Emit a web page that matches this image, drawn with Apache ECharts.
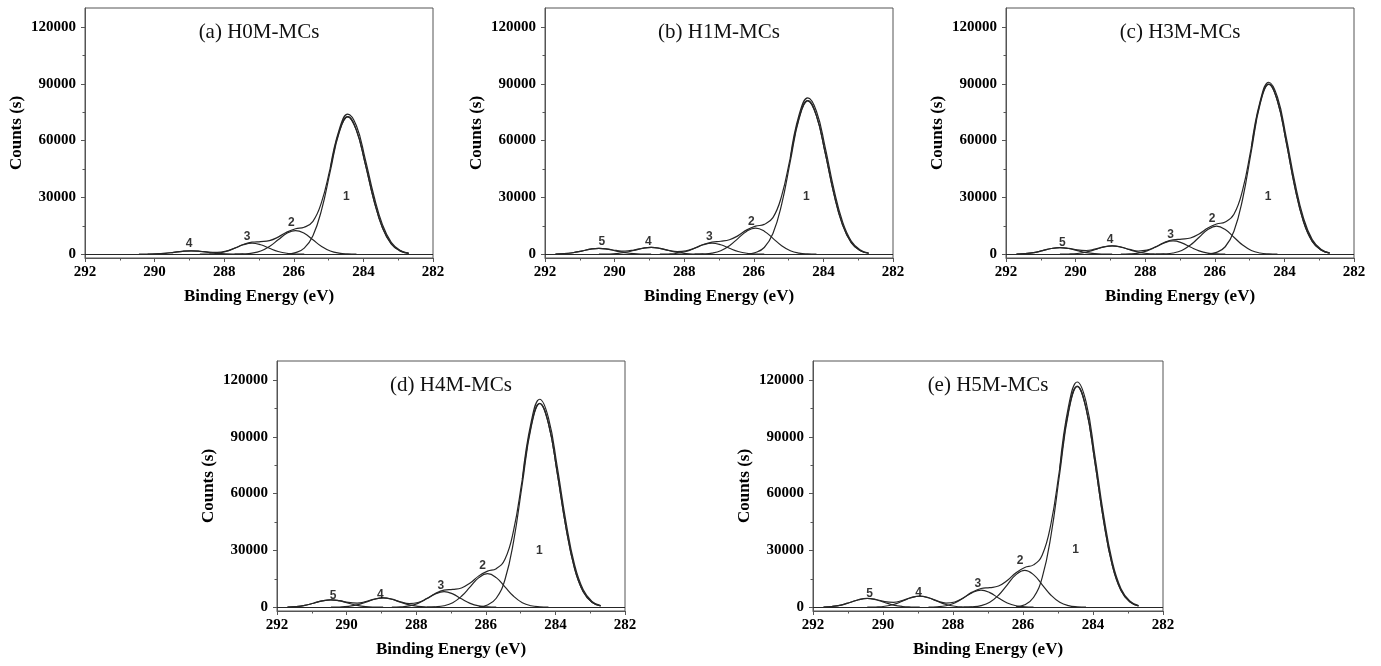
<!DOCTYPE html>
<html><head><meta charset="utf-8">
<script src="https://cdn.jsdelivr.net/npm/echarts@6/dist/echarts.min.js"></script>
<style>html,body{margin:0;padding:0;background:#fff}#c{width:1381px;height:666px}</style>
</head><body><div id="c"></div>
<script>
const N = null;
// Binding energy grid (eV)
const energy = [291.7,291.45,291.2,290.95,290.7,290.45,290.2,289.95,289.7,289.45,
                289.2,288.95,288.7,288.45,288.2,287.95,287.7,287.45,287.2,286.95,
                286.7,286.45,286.2,285.95,285.7,285.45,285.2,284.95,284.7,284.45,
                284.2,283.95,283.7,283.45,283.2,282.95,282.7];
const yTicks = [0,30000,60000,90000,120000];
const yMinorTicks = [15000,45000,75000,105000];
const titles = ['(a) H0M-MCs','(b) H1M-MCs','(c) H3M-MCs','(d) H4M-MCs','(e) H5M-MCs'];

// (a) H0M-MCs
const a_env = [N,N,N,N,N,N,38,153,448,970,
  1543,1800,1566,1092,941,1601,3192,5117,6349,6659,
  7189,9032,11678,13427,14231,17376,27626,45696,64494,72639,
  65423,47995,28638,13848,5481,1762,457];
const a_raw = [N,N,N,N,N,N,N,N,N,N, N,N,N,N,N,N,N,N,N,N,
  N,N,N,N,N,N,N,45696,65500,74000,
  67800,50500,31000,15500,6300,2100,550];
const a_c1 = [N,N,N,N,N,N,N,N,N,N, N,N,N,N,N,N,N,N,N,N,
  N,N,160,805,3183,9788,23563,44008,63945,72500,
  65395,47995,28638,13848,5481,1762,457];
const a_c2 = [N,N,N,N,N,N,N,N,N,N,
  N,N,N,N,N,N,28,139,549,1688,
  4063,7588,11025,12500,11025,7588,4063,1688,549,139,
  28,N,N,N,N,N,N];
const a_c3 = [N,N,N,N,N,N,N,N,N,N,
  N,N,23,122,493,1444,3126,4971,5800,4971,
  3126,1444,493,122,23,N,N,N,N,N,
  N,N,N,N,N,N,N];
const a_c4 = [N,N,N,N,N,7,38,153,448,970,
  1543,1800,1543,970,448,153,38,7,N,N,
  N,N,N,N,N,N,N,N,N,N, N,N,N,N,N,N,N];
const a_lblE = [284.49,286.07,287.34,289.01];
const a_lblC = [30500,16760,9350,5470];
const a_lblT = ['1','2','3','4'];

// (b) H1M-MCs
const b_env = [65,264,772,1671,2657,3114,2733,1977,1668,2204,
  3150,3612,3110,2062,1389,1754,3232,5138,6408,6834,
  7611,9821,12843,14821,15751,19315,30810,51030,72048,81153,
  73092,53626,31995,15471,6124,1968,510];
const b_raw = [N,N,N,N,N,N,N,N,N,N, N,N,N,N,N,N,N,N,N,N,
  N,N,N,N,N,N,N,51030,73500,82500,
  75500,56500,34500,17200,7000,2400,620];
const b_c1 = [N,N,N,N,N,N,N,N,N,N, N,N,N,N,N,N,N,N,N,N,
  N,N,178,899,3556,10935,26325,49167,71442,81000,
  73062,53622,31995,15471,6124,1968,510];
const b_c2 = [N,N,N,N,N,N,N,N,N,N,
  N,N,N,N,N,N,30,153,606,1863,
  4485,8377,12172,13800,12172,8377,4485,1863,606,153,
  30,N,N,N,N,N,N];
const b_c3 = [N,N,N,N,N,N,N,N,N,N,
  N,N,23,122,493,1444,3126,4971,5800,4971,
  3126,1444,493,122,23,N,N,N,N,N,
  N,N,N,N,N,N,N];
const b_c4 = [N,N,N,N,N,14,76,306,896,1940,
  3085,3600,3085,1940,896,306,76,14,N,N,
  N,N,N,N,N,N,N,N,N,N, N,N,N,N,N,N,N];
const b_c5 = [65,264,772,1671,2657,3100,2657,1671,772,264,
  65,12,N,N,N,N,N,N,N,N,
  N,N,N,N,N,N,N,N,N,N, N,N,N,N,N,N,N];
const b_lblE = [284.49,286.07,287.28,289.03,290.37];
const b_lblC = [30500,17300,9350,6700,6700];
const b_lblT = ['1','2','3','4','5'];

// (c) H3M-MCs
const c_env = [74,298,872,1887,3000,3517,3093,2261,1968,2670,
  3845,4414,3800,2520,1691,2121,3899,6180,7652,7997,
  8583,10727,13846,15944,17019,21098,33963,56446,79765,89864,
  80942,59385,35432,17133,6781,2180,565];
const c_raw = [N,N,N,N,N,N,N,N,N,N, N,N,N,N,N,N,N,N,N,N,
  N,N,N,N,N,N,N,56446,80500,90800,
  83000,62000,38000,19000,7700,2600,680];
const c_c1 = [N,N,N,N,N,N,N,N,N,N, N,N,N,N,N,N,N,N,N,N,
  N,N,197,996,3938,12110,29153,54448,79115,89700,
  80909,59381,35432,17133,6781,2180,565];
const c_c2 = [N,N,N,N,N,N,N,N,N,N,
  N,N,N,N,N,N,33,164,650,1998,
  4810,8984,13054,14800,13054,8984,4810,1998,650,164,
  33,N,N,N,N,N,N];
const c_c3 = [N,N,N,N,N,N,N,N,N,N,
  N,N,27,148,595,1743,3773,5999,7000,5999,
  3773,1743,595,148,27,N,N,N,N,N,
  N,N,N,N,N,N,N];
const c_c4 = [N,N,N,N,N,17,93,374,1096,2372,
  3771,4400,3771,2372,1096,374,93,17,N,N,
  N,N,N,N,N,N,N,N,N,N, N,N,N,N,N,N,N];
const c_c5 = [74,298,872,1887,3000,3500,3000,1887,872,298,
  74,14,N,N,N,N,N,N,N,N,
  N,N,N,N,N,N,N,N,N,N, N,N,N,N,N,N,N];
const c_lblE = [284.47,286.08,287.27,289.01,290.38];
const c_lblC = [30350,18950,10180,7540,6140];
const c_lblT = ['1','2','3','4','5'];

// (d) H4M-MCs
const d_env = [82,332,971,2102,3342,3919,3445,2519,2191,2973,
  4281,4915,4233,2814,1917,2464,4562,7242,8979,9417,
  10173,12786,16545,19066,20362,25261,40691,67643,95592,107696,
  97004,71170,42463,20533,8127,2612,677];
const d_raw = [N,N,N,N,N,N,N,N,N,N, N,N,N,N,N,N,N,N,N,N,
  N,N,N,N,N,N,N,67643,97500,109800,
  100000,74500,45500,22500,9200,3100,800];
const d_c1 = [N,N,N,N,N,N,N,N,N,N, N,N,N,N,N,N,N,N,N,N,
  N,N,237,1193,4719,14513,34938,65253,94815,107500,
  96965,71165,42463,20533,8127,2612,677];
const d_c2 = [N,N,N,N,N,N,N,N,N,N,
  N,N,N,N,N,N,39,196,777,2390,
  5753,10744,15611,17700,15611,10744,5753,2390,777,196,
  39,N,N,N,N,N,N];
const d_c3 = [N,N,N,N,N,N,N,N,N,N,
  N,N,32,173,697,2042,4420,7027,8200,7027,
  4420,2042,697,173,32,N,N,N,N,N,
  N,N,N,N,N,N,N];
const d_c4 = [N,N,N,N,N,19,103,417,1220,2641,
  4199,4900,4199,2641,1220,417,103,19,N,N,
  N,N,N,N,N,N,N,N,N,N, N,N,N,N,N,N,N];
const d_c5 = [82,332,971,2102,3342,3900,3342,2102,971,332,
  82,15,N,N,N,N,N,N,N,N,
  N,N,N,N,N,N,N,N,N,N, N,N,N,N,N,N,N];
const d_lblE = [284.46,286.09,287.29,289.03,290.39];
const d_lblC = [30000,21880,11470,6700,6180];
const d_lblT = ['1','2','3','4','5'];

// (e) H5M-MCs
const e_env = [97,391,1145,2479,3942,4623,4064,2972,2589,3517,
  5068,5818,5008,3316,2209,2740,5016,7952,9859,10346,
  11189,14078,18220,20983,22348,27570,44201,73349,103609,116716,
  105126,77129,46018,22252,8807,2831,734];
const e_raw = [N,N,N,N,N,N,N,N,N,N, N,N,N,N,N,N,N,N,N,N,
  N,N,N,N,N,N,N,73349,106000,118900,
  108500,80500,49000,24200,9800,3300,850];
const e_c1 = [N,N,N,N,N,N,N,N,N,N, N,N,N,N,N,N,N,N,N,N,
  N,N,256,1293,5114,15728,37863,70716,102753,116500,
  105083,77123,46018,22252,8807,2831,734];
const e_c2 = [N,N,N,N,N,N,N,N,N,N,
  N,N,N,N,N,N,43,216,856,2633,
  6338,11837,17199,19500,17199,11837,6338,2633,856,216,
  43,N,N,N,N,N,N];
const e_c3 = [N,N,N,N,N,N,N,N,N,N,
  N,N,35,190,765,2241,4851,7713,9000,7713,
  4851,2241,765,190,35,N,N,N,N,N,
  N,N,N,N,N,N,N];
const e_c4 = [N,N,N,N,N,23,122,493,1444,3126,
  4971,5800,4971,3126,1444,493,122,23,N,N,
  N,N,N,N,N,N,N,N,N,N, N,N,N,N,N,N,N];
const e_c5 = [97,391,1145,2479,3942,4600,3942,2479,1145,391,
  97,18,N,N,N,N,N,N,N,N,
  N,N,N,N,N,N,N,N,N,N, N,N,N,N,N,N,N];
const e_lblE = [284.50,286.08,287.29,288.98,290.38];
const e_lblC = [30480,24320,12510,7580,7220];
const e_lblT = ['1','2','3','4','5'];

const panels = [
  {title: titles[0], curves: [a_env, a_raw, a_c1, a_c2, a_c3, a_c4], lx: a_lblE, ly: a_lblC, lt: a_lblT},
  {title: titles[1], curves: [b_env, b_raw, b_c1, b_c2, b_c3, b_c4, b_c5], lx: b_lblE, ly: b_lblC, lt: b_lblT},
  {title: titles[2], curves: [c_env, c_raw, c_c1, c_c2, c_c3, c_c4, c_c5], lx: c_lblE, ly: c_lblC, lt: c_lblT},
  {title: titles[3], curves: [d_env, d_raw, d_c1, d_c2, d_c3, d_c4, d_c5], lx: d_lblE, ly: d_lblC, lt: d_lblT},
  {title: titles[4], curves: [e_env, e_raw, e_c1, e_c2, e_c3, e_c4, e_c5], lx: e_lblE, ly: e_lblC, lt: e_lblT}
];

const layout = [
  {left: 85, top: 8, width: 348, height: 250},
  {left: 545, top: 8, width: 348, height: 250},
  {left: 1006, top: 8, width: 348, height: 250},
  {left: 277, top: 361, width: 348, height: 250},
  {left: 813, top: 361, width: 350, height: 250}
];

const SERIF = '"Liberation Serif","Times New Roman",serif';
const AXC = '#555';
const LINEC = '#262626';

const grid = [], xAxis = [], yAxis = [], series = [], graphic = [];
panels.forEach((p, k) => {
  const g = layout[k];
  grid.push({left: g.left, top: g.top, width: g.width, height: g.height,
    show: true, borderColor: AXC, borderWidth: 1, backgroundColor: 'transparent'});
  xAxis.push({
    gridIndex: k, type: 'value', min: 282, max: 292, interval: 2, inverse: true,
    name: 'Binding Energy (eV)', nameLocation: 'middle', nameGap: 30,
    nameTextStyle: {fontFamily: SERIF, fontWeight: 'bold', fontSize: 17, color: '#000'},
    axisLine: {show: true, onZero: false, lineStyle: {color: AXC, width: 1}},
    axisTick: {show: true, inside: false, length: 4, lineStyle: {color: AXC}},
    minorTick: {show: true, splitNumber: 2, length: 2.5, lineStyle: {color: AXC}},
    splitLine: {show: false},
    axisLabel: {margin: 7, fontFamily: SERIF, fontWeight: 'bold', fontSize: 15, color: '#000',
      formatter: (v) => String(v)}
  });
  yAxis.push({
    gridIndex: k, type: 'value', min: -2000, max: 130000, position: 'left',
    name: 'Counts (s)', nameLocation: 'middle', nameGap: 60, nameRotate: 90,
    nameTextStyle: {fontFamily: SERIF, fontWeight: 'bold', fontSize: 17, color: '#000'},
    axisLine: {show: true, onZero: false, lineStyle: {color: AXC, width: 1}},
    axisTick: {show: true, inside: false, length: 4, customValues: yTicks, lineStyle: {color: AXC}},
    splitLine: {show: false},
    axisLabel: {customValues: yTicks, margin: 9, fontFamily: SERIF, fontWeight: 'bold', fontSize: 15, color: '#000',
      formatter: (v) => String(v)}
  });
  yAxis.push({
    gridIndex: k, type: 'value', min: -2000, max: 130000, position: 'left',
    axisLine: {show: false},
    axisTick: {show: true, inside: false, length: 2.5, customValues: yMinorTicks, lineStyle: {color: AXC}},
    splitLine: {show: false},
    axisLabel: {show: false}
  });
  p.curves.forEach((vals, j) => {
    const data = [];
    vals.forEach((v, i) => { if (v !== null) data.push([energy[i], v]); });
    const s = {
      type: 'line', xAxisIndex: k, yAxisIndex: 2 * k, data: data,
      smooth: 0.45, showSymbol: false, symbol: 'none', silent: true,
      lineStyle: {color: LINEC, width: 1.2}, z: 3
    };
    if (j === 0) {
      s.markLine = {silent: true, symbol: 'none', label: {show: false},
        lineStyle: {color: LINEC, width: 1, type: 'solid'}, data: [{yAxis: 0}]};
    }
    series.push(s);
  });
  series.push({
    type: 'scatter', xAxisIndex: k, yAxisIndex: 2 * k, symbolSize: 1, silent: true,
    itemStyle: {color: 'rgba(0,0,0,0)'},
    data: p.lx.map((x, i) => [x, p.ly[i], p.lt[i]]),
    label: {show: true, position: 'inside', formatter: (q) => q.value[2],
      fontFamily: '"Liberation Sans",Arial,sans-serif', fontWeight: 'bold', fontSize: 12, color: '#000'},
    labelLayout: {hideOverlap: false},
    z: 5
  });
  graphic.push({
    type: 'text', x: g.left + g.width / 2, y: g.top + 24,
    style: {text: p.title, fontFamily: SERIF, fontSize: 21, fill: '#111',
      textAlign: 'center', textVerticalAlign: 'middle'}
  });
});

const chart = echarts.init(document.getElementById('c'), null, {renderer: 'canvas'});
chart.setOption({
  animation: false,
  backgroundColor: '#fff',
  grid, xAxis, yAxis, series, graphic
});
</script>
</body></html>
